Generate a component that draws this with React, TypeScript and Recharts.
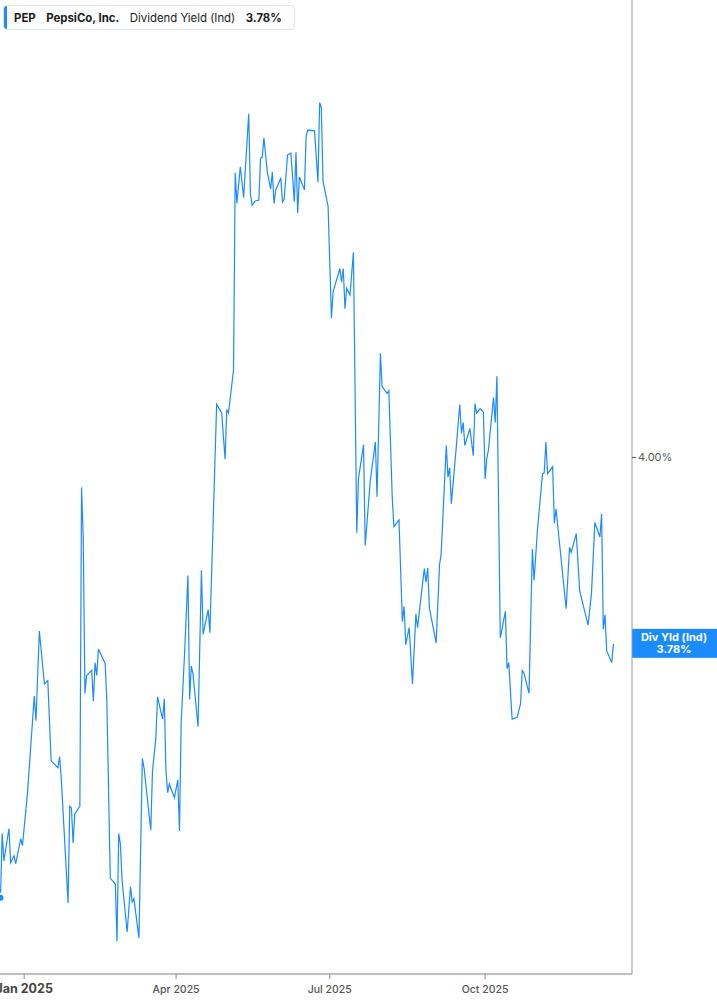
import React from "react";
import { Line, LineChart, ReferenceLine, XAxis, YAxis } from "recharts";

// days counted from 1 Jan 2025 (negative = Dec 2024)
const dayOffsets = [
  -14, -13, -12, -9, -8, -6, -5, -2, -1, 2,
  6, 7, 9, 12, 14, 16, 20, 21, 22, 26,
  27, 28, 29, 30, 33, 34, 35, 36, 37, 40,
  41, 42, 43, 44, 48, 49, 51, 54, 55, 56,
  57, 58, 61, 63, 64, 65, 68, 70, 71, 75,
  76, 78, 79, 82, 83, 84, 85, 86, 89, 91,
  92, 93, 95, 97, 98, 99, 100, 103, 105, 106,
  109, 110, 114, 117, 119, 120, 121, 124, 125, 126,
  128, 130, 133, 134, 135, 137, 139, 140, 141, 142,
  144, 146, 147, 148, 149, 152, 153, 154, 156, 158,
  160, 161, 162, 163, 166, 167, 168, 172, 174, 175,
  176, 177, 180, 182, 183, 187, 188, 189, 190, 191,
  193, 195, 197, 198, 201, 202, 205, 208, 209, 211,
  212, 215, 216, 218, 219, 222, 224, 225, 226, 228,
  230, 232, 233, 235, 237, 238, 239, 240, 244, 246,
  247, 250, 251, 252, 253, 256, 258, 259, 260, 261,
  264, 266, 267, 268, 270, 272, 273, 274, 275, 278,
  279, 280, 282, 285, 286, 287, 289, 292, 294, 295,
  296, 299, 301, 302, 304, 307, 308, 309, 310, 313,
  314, 315, 321, 323, 324, 327, 329, 334, 336, 338,
  341, 342, 343, 344, 345, 348, 349,
];

const yieldPct = [
  3.485, 3.56, 3.528, 3.566, 3.526, 3.534, 3.525, 3.554, 3.546, 3.608,
  3.721, 3.692, 3.797, 3.735, 3.739, 3.645, 3.637, 3.65, 3.624, 3.479,
  3.592, 3.59, 3.549, 3.583, 3.592, 3.965, 3.906, 3.724, 3.745, 3.751,
  3.715, 3.76, 3.745, 3.776, 3.759, 3.713, 3.508, 3.501, 3.434, 3.56,
  3.548, 3.505, 3.445, 3.498, 3.48, 3.484, 3.438, 3.648, 3.637, 3.564,
  3.633, 3.672, 3.72, 3.694, 3.718, 3.633, 3.608, 3.618, 3.602, 3.623,
  3.563, 3.69, 3.77, 3.862, 3.717, 3.756, 3.747, 3.685, 3.868, 3.793,
  3.822, 3.795, 4.062, 4.052, 3.998, 4.056, 4.052, 4.102, 4.333, 4.297,
  4.34, 4.304, 4.402, 4.309, 4.295, 4.3, 4.301, 4.35, 4.351, 4.374,
  4.334, 4.314, 4.334, 4.297, 4.313, 4.327, 4.299, 4.302, 4.354, 4.356,
  4.299, 4.357, 4.286, 4.328, 4.313, 4.376, 4.383, 4.382, 4.322, 4.415,
  4.409, 4.323, 4.294, 4.163, 4.194, 4.221, 4.205, 4.221, 4.174, 4.198,
  4.19, 4.24, 3.912, 3.975, 4.015, 3.897, 3.973, 4.018, 3.954, 4.122,
  4.083, 4.075, 4.078, 3.953, 3.919, 3.927, 3.808, 3.826, 3.781, 3.801,
  3.735, 3.817, 3.801, 3.836, 3.87, 3.854, 3.871, 3.824, 3.783, 3.874,
  3.888, 4.014, 3.977, 3.988, 3.946, 4.014, 4.062, 4.028, 4.041, 4.014,
  4.034, 4.002, 4.063, 4.052, 4.057, 4.053, 3.975, 3.999, 4.009, 4.07,
  4.041, 4.095, 3.789, 3.82, 3.753, 3.76, 3.694, 3.696, 3.712, 3.751,
  3.748, 3.724, 3.893, 3.856, 3.915, 3.981, 3.982, 4.018, 3.981, 3.989,
  3.923, 3.94, 3.823, 3.895, 3.889, 3.911, 3.844, 3.804, 3.841, 3.924,
  3.907, 3.934, 3.799, 3.816, 3.774, 3.76, 3.782,
];

const tickDays = [0, 90, 181, 273];
const tickLabels = ["Jan 2025", "Apr 2025", "Jul 2025", "Oct 2025"];
const yTicks = [4];

const BLUE = "#1a8cff";
const FONT = "Inter, Roboto, sans-serif";

const rows = dayOffsets.map((day, i) => ({ day, y: yieldPct[i] }));
const lastYield = yieldPct[yieldPct.length - 1];

function DateTick({ x, y, payload }: any) {
  const label = tickLabels[tickDays.indexOf(payload.value)] ?? "";
  const isYear = label.startsWith("Jan");
  return (
    <text
      x={x}
      y={y + 12}
      textAnchor="middle"
      fontFamily={FONT}
      fontSize={isYear ? 12.5 : 10.5}
      fontWeight={isYear ? 700 : 500}
      fill={isYear ? "#444" : "#555"}
    >
      {label}
    </text>
  );
}

function LastValueTag({ viewBox }: any) {
  const left = viewBox.x + viewBox.width;
  const mid = viewBox.y;
  return (
    <g>
      <rect x={left} y={mid - 15} width={85} height={29} fill={BLUE} />
      <text x={left + 42} y={mid - 3} textAnchor="middle" fill="#fff" fontFamily={FONT} fontSize={11} fontWeight={700}>
        Div Yld (Ind)
      </text>
      <text x={left + 42} y={mid + 9} textAnchor="middle" fill="#fff" fontFamily={FONT} fontSize={11} fontWeight={700}>
        {lastYield.toFixed(2)}%
      </text>
    </g>
  );
}

export default function App() {
  return (
    <div style={{ position: "relative", width: 717, height: 1005, background: "#fff" }}>
      <style>{"body{margin:0}"}</style>
      <LineChart width={717} height={1005} data={rows} margin={{ top: 0, right: 0, left: 0, bottom: 0 }}>
        <XAxis
          dataKey="day"
          type="number"
          domain={[-14.3, 360]}
          allowDataOverflow
          ticks={tickDays}
          height={31}
          tick={<DateTick />}
          tickSize={5}
          tickLine={{ stroke: "#888" }}
          axisLine={{ stroke: "#aaa", strokeWidth: 1.5 }}
        />
        <YAxis
          orientation="right"
          width={85}
          domain={[3.3958, 4.5351]}
          allowDataOverflow
          ticks={yTicks}
          tickFormatter={(v: number) => `${v.toFixed(2)}%`}
          tick={{ fontSize: 11, fill: "#555", fontFamily: FONT }}
          tickSize={4}
          tickLine={{ stroke: "#555" }}
          axisLine={{ stroke: "#999" }}
        />
        <ReferenceLine y={lastYield} stroke="none" label={<LastValueTag />} />
        <Line
          type="linear"
          dataKey="y"
          stroke={BLUE}
          strokeWidth={1.2}
          dot={false}
          isAnimationActive={false}
        />
      </LineChart>
      <div
        style={{
          position: "absolute",
          left: 3,
          top: 5,
          width: 292,
          height: 25,
          boxSizing: "border-box",
          border: "1px solid #e4e4e4",
          borderRadius: 4,
          background: "#fff",
          display: "flex",
          alignItems: "center",
          gap: 10.5,
          paddingLeft: 10,
          fontFamily: "Inter, sans-serif",
          fontSize: 11.4,
          color: "#1a1a1a",
          whiteSpace: "nowrap",
        }}
      >
        <div style={{ position: "absolute", left: 0, top: 0, width: 3, height: 23, background: BLUE, borderRadius: "3px 0 0 3px" }} />
        <span style={{ fontWeight: 700 }}>PEP</span>
        <span style={{ fontWeight: 700 }}>PepsiCo, Inc.</span>
        <span>Dividend Yield (Ind)</span>
        <span style={{ fontWeight: 700 }}>{lastYield.toFixed(2)}%</span>
      </div>
    </div>
  );
}
